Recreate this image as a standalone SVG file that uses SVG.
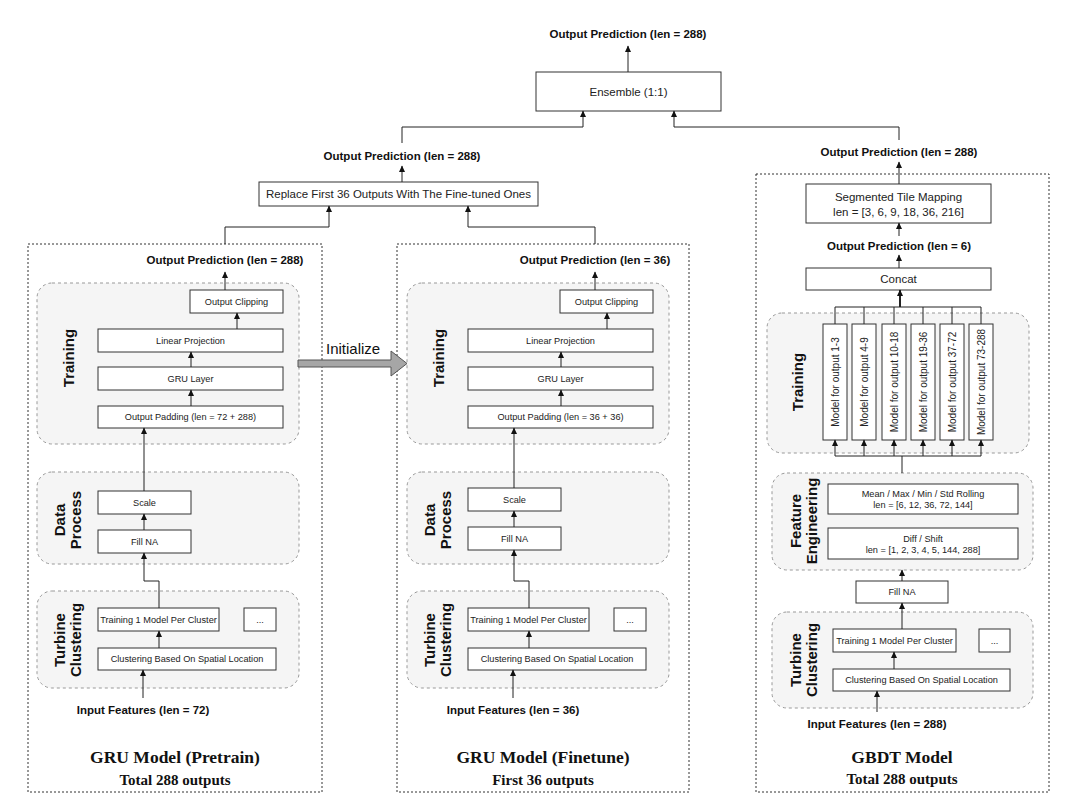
<svg xmlns="http://www.w3.org/2000/svg" width="1080" height="810" viewBox="0 0 1080 810">
<style>
.bg{fill:#fff}
.box{fill:#fff;stroke:#333;stroke-width:1}
.panel{fill:#f5f5f5;stroke:#999;stroke-width:1;stroke-dasharray:3 3}
.outer{fill:none;stroke:#333;stroke-width:1;stroke-dasharray:2 2}
.t{font-family:"Liberation Sans",Arial,sans-serif;font-size:9.2px;fill:#222;text-anchor:middle;dominant-baseline:central}
.tl{font-family:"Liberation Sans",Arial,sans-serif;font-size:11.5px;fill:#222;text-anchor:middle;dominant-baseline:central}
.m{font-family:"Liberation Sans",Arial,sans-serif;font-size:10px;fill:#222;text-anchor:middle;dominant-baseline:central}
.b{font-family:"Liberation Sans",Arial,sans-serif;font-size:11.5px;font-weight:bold;fill:#111;text-anchor:middle;dominant-baseline:central}
.h{font-family:"Liberation Sans",Arial,sans-serif;font-size:15px;font-weight:bold;fill:#111;text-anchor:middle;dominant-baseline:central}
.ti{font-family:"Liberation Serif","Times New Roman",serif;font-size:17.5px;font-weight:bold;fill:#111;text-anchor:middle;dominant-baseline:central}
.st{font-family:"Liberation Serif","Times New Roman",serif;font-size:15px;font-weight:bold;fill:#111;text-anchor:middle;dominant-baseline:central}
.c{fill:none;stroke:#222;stroke-width:1}
.ca{fill:none;stroke:#222;stroke-width:1;marker-end:url(#ah)}
</style>
<defs>
<marker id="ah" markerWidth="7" markerHeight="7" refX="6" refY="3.5" orient="auto" markerUnits="userSpaceOnUse"><path d="M0,0.5 L6.5,3.5 L0,6.5 Z" fill="#111"/></marker>
</defs>
<rect class="bg" x="0" y="0" width="1080" height="810"/>

<!-- panels / containers -->
<g id="gru-pretrain">
<rect class="outer" x="28" y="244" width="294" height="548"/>
<text class="b" x="225" y="260">Output Prediction (len = 288)</text>
<rect class="panel" x="37" y="283" width="262" height="161" rx="15"/>
<text class="h" transform="translate(68,358) rotate(-90)">Training</text>
<g id="p-clip"><rect class="box" x="190" y="290" width="93" height="23"/><text class="t" x="236.5" y="301.5">Output Clipping</text></g>
<g id="p-lin"><rect class="box" x="98" y="329" width="185" height="23"/><text class="t" x="190.5" y="340.5">Linear Projection</text></g>
<g id="p-gru"><rect class="box" x="98" y="367" width="185" height="23"/><text class="t" x="190.5" y="378.5">GRU Layer</text></g>
<g id="p-pad"><rect class="box" x="98" y="406" width="185" height="22"/><text class="t" x="190.5" y="417">Output Padding (len = 72 + 288)</text></g>
<rect class="panel" x="37" y="472" width="262" height="92" rx="15"/>
<text class="h" transform="translate(67,520) rotate(-90)"><tspan x="0" y="-8">Data</tspan><tspan x="0" y="8">Process</tspan></text>
<g id="p-scale"><rect class="box" x="98" y="491" width="93" height="23"/><text class="t" x="144.5" y="502.5">Scale</text></g>
<g id="p-fill"><rect class="box" x="98" y="530" width="93" height="23"/><text class="t" x="144.5" y="541.5">Fill NA</text></g>
<rect class="panel" x="37" y="591" width="262" height="97" rx="15"/>
<text class="h" transform="translate(67,640) rotate(-90)"><tspan x="0" y="-8">Turbine</tspan><tspan x="0" y="8">Clustering</tspan></text>
<g id="p-train1"><rect class="box" x="98" y="608" width="121" height="23"/><text class="t" x="158.5" y="619.5">Training 1 Model Per Cluster</text></g>
<g id="p-dots"><rect class="box" x="244" y="608" width="32" height="23"/><text class="t" x="260" y="619.5">...</text></g>
<g id="p-clus"><rect class="box" x="98" y="648" width="178" height="22"/><text class="t" x="187" y="659">Clustering Based On Spatial Location</text></g>
<text class="b" x="143" y="710">Input Features (len = 72)</text>
<text class="ti" x="175" y="757">GRU Model (Pretrain)</text>
<text class="st" x="175" y="780">Total 288 outputs</text>
</g>

<g id="gru-finetune">
<rect class="outer" x="397" y="244" width="292" height="548"/>
<text class="b" x="595" y="260">Output Prediction (len = 36)</text>
<rect class="panel" x="407" y="283" width="262" height="161" rx="15"/>
<text class="h" transform="translate(438,358) rotate(-90)">Training</text>
<g id="f-clip"><rect class="box" x="560" y="290" width="93" height="23"/><text class="t" x="606.5" y="301.5">Output Clipping</text></g>
<g id="f-lin"><rect class="box" x="468" y="329" width="185" height="23"/><text class="t" x="560.5" y="340.5">Linear Projection</text></g>
<g id="f-gru"><rect class="box" x="468" y="367" width="185" height="23"/><text class="t" x="560.5" y="378.5">GRU Layer</text></g>
<g id="f-pad"><rect class="box" x="468" y="406" width="185" height="22"/><text class="t" x="560.5" y="417">Output Padding (len = 36 + 36)</text></g>
<rect class="panel" x="407" y="472" width="262" height="92" rx="15"/>
<text class="h" transform="translate(437,520) rotate(-90)"><tspan x="0" y="-8">Data</tspan><tspan x="0" y="8">Process</tspan></text>
<g id="f-scale"><rect class="box" x="468" y="488" width="93" height="23"/><text class="t" x="514.5" y="499.5">Scale</text></g>
<g id="f-fill"><rect class="box" x="468" y="527" width="93" height="23"/><text class="t" x="514.5" y="538.5">Fill NA</text></g>
<rect class="panel" x="407" y="591" width="262" height="97" rx="15"/>
<text class="h" transform="translate(437,640) rotate(-90)"><tspan x="0" y="-8">Turbine</tspan><tspan x="0" y="8">Clustering</tspan></text>
<g id="f-train1"><rect class="box" x="468" y="608" width="121" height="23"/><text class="t" x="528.5" y="619.5">Training 1 Model Per Cluster</text></g>
<g id="f-dots"><rect class="box" x="614" y="608" width="32" height="23"/><text class="t" x="630" y="619.5">...</text></g>
<g id="f-clus"><rect class="box" x="468" y="648" width="178" height="22"/><text class="t" x="557" y="659">Clustering Based On Spatial Location</text></g>
<text class="b" x="513" y="710">Input Features (len = 36)</text>
<text class="ti" x="543" y="757">GRU Model (Finetune)</text>
<text class="st" x="543" y="780">First 36 outputs</text>
</g>

<g id="gbdt">
<rect class="outer" x="756" y="174" width="293" height="618"/>
<g id="g-seg"><rect class="box" x="806" y="184" width="185" height="39"/><text class="tl" x="898.5" y="197">Segmented Tile Mapping</text><text class="tl" x="898.5" y="211.5">len = [3, 6, 9, 18, 36, 216]</text></g>
<text class="b" x="899" y="246">Output Prediction (len = 6)</text>
<g id="g-concat"><rect class="box" x="806" y="268" width="185" height="22"/><text class="tl" x="898.5" y="279">Concat</text></g>
<rect class="panel" x="767" y="313" width="262" height="140" rx="15"/>
<text class="h" transform="translate(797,382) rotate(-90)">Training</text>
<g id="g-m1"><rect class="box" x="823" y="324" width="24" height="116"/><text class="m" transform="translate(835,382) rotate(-90)">Model for output 1-3</text></g>
<g id="g-m2"><rect class="box" x="852" y="324" width="24" height="116"/><text class="m" transform="translate(864,382) rotate(-90)">Model for output 4-9</text></g>
<g id="g-m3"><rect class="box" x="882" y="324" width="24" height="116"/><text class="m" transform="translate(894,382) rotate(-90)">Model for output 10-18</text></g>
<g id="g-m4"><rect class="box" x="911" y="324" width="24" height="116"/><text class="m" transform="translate(923,382) rotate(-90)">Model for output 19-36</text></g>
<g id="g-m5"><rect class="box" x="940" y="324" width="24" height="116"/><text class="m" transform="translate(952,382) rotate(-90)">Model for output 37-72</text></g>
<g id="g-m6"><rect class="box" x="969" y="324" width="24" height="116"/><text class="m" transform="translate(981,382) rotate(-90)">Model for output 73-288</text></g>
<rect class="panel" x="772" y="473" width="261" height="97" rx="15"/>
<text class="h" transform="translate(803,521) rotate(-90)"><tspan x="0" y="-8">Feature</tspan><tspan x="0" y="8">Engineering</tspan></text>
<g id="g-mean"><rect class="box" x="828" y="484" width="190" height="30"/><text class="t" x="923" y="494">Mean / Max / Min / Std Rolling</text><text class="t" x="923" y="505">len = [6, 12, 36, 72, 144]</text></g>
<g id="g-diff"><rect class="box" x="828" y="528" width="190" height="31"/><text class="t" x="923" y="538.5">Diff / Shift</text><text class="t" x="923" y="550">len = [1, 2, 3, 4, 5, 144, 288]</text></g>
<g id="g-fill"><rect class="box" x="856" y="581" width="92" height="22"/><text class="t" x="902" y="592">Fill NA</text></g>
<rect class="panel" x="772" y="612" width="261" height="96" rx="15"/>
<text class="h" transform="translate(803,660) rotate(-90)"><tspan x="0" y="-8">Turbine</tspan><tspan x="0" y="8">Clustering</tspan></text>
<g id="g-train1"><rect class="box" x="833" y="629" width="123" height="23"/><text class="t" x="894.5" y="640.5">Training 1 Model Per Cluster</text></g>
<g id="g-dots"><rect class="box" x="979" y="629" width="31" height="23"/><text class="t" x="994.5" y="640.5">...</text></g>
<g id="g-clus"><rect class="box" x="833" y="669" width="177" height="22"/><text class="t" x="921.5" y="680">Clustering Based On Spatial Location</text></g>
<text class="b" x="877" y="724">Input Features (len = 288)</text>
<text class="ti" x="902" y="757">GBDT Model</text>
<text class="st" x="902" y="779">Total 288 outputs</text>
</g>

<g id="top">
<text class="b" x="628" y="34">Output Prediction (len = 288)</text>
<g id="ensemble"><rect class="box" x="536" y="72" width="185" height="39"/><text class="tl" x="628.5" y="91.5">Ensemble (1:1)</text></g>
<text class="b" x="402" y="156">Output Prediction (len = 288)</text>
<g id="replace"><rect class="box" x="259" y="182" width="279" height="24"/><text class="tl" x="398.5" y="194">Replace First 36 Outputs With The Fine-tuned Ones</text></g>
<text class="b" x="899" y="152">Output Prediction (len = 288)</text>
</g>

<g id="initialize">
<polygon points="298,360 391,360 391,351 407,363.5 391,376 391,367 298,367" fill="#a6a6a6" stroke="#555" stroke-width="1"/>
<text x="326" y="348" font-family="'Liberation Sans',Arial,sans-serif" font-size="15" fill="#111" dominant-baseline="central">Initialize</text>
</g>

<g id="connectors">
<path class="ca" d="M628,72 V46"/>
<path class="ca" d="M402,143 V127 H583 V111"/>
<path class="ca" d="M899,140 V127 H674 V111"/>
<path class="ca" d="M402,182 V166"/>
<path class="ca" d="M225,244 V227 H329 V206"/>
<path class="ca" d="M595,244 V227 H468 V206"/>
<!-- pretrain -->
<path class="ca" d="M225,290 V272"/>
<path class="ca" d="M237,329 V313"/>
<path class="ca" d="M191,367 V352"/>
<path class="ca" d="M191,406 V390"/>
<path class="ca" d="M144,491 V428"/>
<path class="ca" d="M144,530 V514"/>
<path class="ca" d="M159,608 V581 H144 V553"/>
<path class="ca" d="M159,648 V631"/>
<path class="ca" d="M143,698 V670"/>
<!-- finetune -->
<path class="ca" d="M595,290 V272"/>
<path class="ca" d="M607,329 V313"/>
<path class="ca" d="M561,367 V352"/>
<path class="ca" d="M561,406 V390"/>
<path class="ca" d="M514,488 V428"/>
<path class="ca" d="M514,527 V511"/>
<path class="ca" d="M529,608 V581 H514 V550"/>
<path class="ca" d="M529,648 V631"/>
<path class="ca" d="M513,698 V670"/>
<!-- gbdt -->
<path class="ca" d="M899,184 V162"/>
<path class="ca" d="M899,236 V223"/>
<path class="ca" d="M899,268 V255"/>
<path class="c" d="M835,324 V307 H981 V324 M864,324 V307 M894,324 V307 M923,324 V307 M952,324 V307"/>
<path class="ca" d="M900,307 V290" style="stroke-width:2"/>
<path class="c" d="M835,456 H981 M902,473 V456"/>
<path class="ca" d="M835,456 V440"/>
<path class="ca" d="M864,456 V440"/>
<path class="ca" d="M894,456 V440"/>
<path class="ca" d="M923,456 V440"/>
<path class="ca" d="M952,456 V440"/>
<path class="ca" d="M981,456 V440"/>
<path class="ca" d="M902,581 V570"/>
<path class="ca" d="M902,629 V603"/>
<path class="ca" d="M894,669 V652"/>
<path class="ca" d="M877,712 V691"/>
</g>
</svg>
